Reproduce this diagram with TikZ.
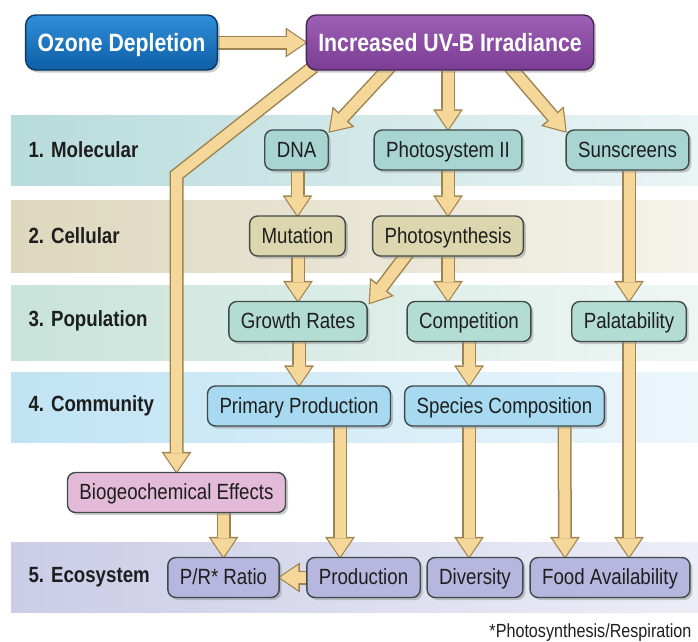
\documentclass[tikz,border=0pt]{standalone}
\usepackage{fontspec}
\setmainfont{Liberation Sans}[FakeStretch=0.85]
\usepackage{tikz}
\usetikzlibrary{arrows.meta}
\usetikzlibrary{shadows}

\definecolor{ozonetop}{HTML}{2F8FD8}
\definecolor{ozonebot}{HTML}{0E5FA6}
\definecolor{uvbtop}{HTML}{9D60B5}
\definecolor{uvbbot}{HTML}{7A3D93}
\definecolor{molfill}{HTML}{A8D4D2}
\definecolor{celfill}{HTML}{DCD6AF}
\definecolor{popfill}{HTML}{B3DCD2}
\definecolor{comfill}{HTML}{A7DAF0}
\definecolor{biofill}{HTML}{E3BAD7}
\definecolor{ecofill}{HTML}{B6B6DF}
\definecolor{molband}{HTML}{B8DBDC}
\definecolor{celband}{HTML}{DDD7BD}
\definecolor{popband}{HTML}{C8E3DA}
\definecolor{comband}{HTML}{C0E3F4}
\definecolor{ecoband}{HTML}{CBCCE7}
\definecolor{arrowfill}{HTML}{F5D899}
\definecolor{arrowedge}{HTML}{9E8350}
\definecolor{nodeedge}{HTML}{3F4B4B}
\definecolor{textdark}{HTML}{1E1E1E}

\pgfdeclarelayer{bands}
\pgfdeclarelayer{arrows}
\pgfsetlayers{bands,arrows,main}

\begin{document}
\begin{tikzpicture}[x=1pt,y=-1pt,
	level node/.style={rectangle, rounded corners=8pt, draw=nodeedge, line width=1.4pt,
		inner xsep=12pt, minimum height=40pt, text height=15.5pt, text depth=1pt,
		font=\fontsize{22}{24}\selectfont, text=textdark,
		drop shadow={shadow xshift=2.5pt, shadow yshift=-2.5pt, opacity=.4}},
	top node/.style={level node, minimum height=55pt, rounded corners=10pt, text=white,
		text height=18pt, font=\fontsize{25}{28}\selectfont\bfseries},
	band label/.style={anchor=west, font=\fontsize{22}{24}\selectfont\bfseries, text=textdark},
	flow/.style={draw=arrowfill, line width=11pt,
		-{Triangle[width=25pt,length=18.5pt,line width=0pt]},
		preaction={draw=arrowedge, line width=14pt,
			-{Triangle[width=30pt,length=22pt,line width=0pt]}, shorten >=-2pt}}]
	
	\useasboundingbox (0,0) rectangle (698,641);
	
	\node[top node, draw=ozonebot!60!black, top color=ozonetop, bottom color=ozonebot] (1) at (121.5,42.5) {Ozone Depletion};
	\node[top node, draw=uvbbot!60!black, top color=uvbtop, bottom color=uvbbot] (2) at (450,42.5) {Increased UV-B Irradiance};
	
	\node[level node, fill=molfill] (3) at (296.5,150) {DNA};
	\node[level node, fill=molfill] (4) at (448,150) {Photosystem II};
	\node[level node, fill=molfill] (5) at (627.5,150) {Sunscreens};
	
	\node[level node, fill=celfill] (6) at (297.5,236) {Mutation};
	\node[level node, fill=celfill] (7) at (448,236) {Photosynthesis};
	
	\node[level node, fill=popfill] (8) at (298,321.5) {Growth Rates};
	\node[level node, fill=popfill] (9) at (469,321.5) {Competition};
	\node[level node, fill=popfill] (10) at (629,321.5) {Palatability};
	
	\node[level node, fill=comfill] (11) at (299,406) {Primary Production};
	\node[level node, fill=comfill] (12) at (504.5,406) {Species Composition};
	
	\node[level node, fill=biofill] (13) at (176.5,492.5) {Biogeochemical Effects};
	
	\node[level node, fill=ecofill] (14) at (223.5,577.5) {P/R* Ratio};
	\node[level node, fill=ecofill] (15) at (363.5,577.5) {Production};
	\node[level node, fill=ecofill] (16) at (475,577.5) {Diversity};
	\node[level node, fill=ecofill] (17) at (610,577.5) {Food Availability};
	
	\node[band label] (l1) at (25,150) {1. Molecular};
	\node[band label] (l2) at (25,236) {2. Cellular};
	\node[band label] (l3) at (25,321) {3. Population};
	\node[band label] (l4) at (25,406) {4. Community};
	\node[band label] (l5) at (25,577) {5. Ecosystem};
	
	\node[anchor=east, font=\fontsize{19}{21}\selectfont, text=textdark] (fn) at (695,633) {*Photosynthesis/Respiration};
	
	\begin{pgfonlayer}{bands}
	\shade[left color=molband, right color=molband!30!white] (11,115) rectangle (698,185);
	\shade[left color=celband, right color=celband!30!white] (11,200) rectangle (698,272);
	\shade[left color=popband, right color=popband!30!white] (11,285) rectangle (698,360);
	\shade[left color=comband, right color=comband!30!white] (11,372) rectangle (698,442);
	\shade[left color=ecoband, right color=ecoband!35!white] (11,542) rectangle (698,612);
	\end{pgfonlayer}
	
	\coordinate (bend) at (13.north |- 0,175);
	
	\begin{pgfonlayer}{arrows}
	\draw[flow] (1.east) -- (2.west);
	\draw[flow] ([shift={(8,-4)}]2.south west) -- (bend) -- (13.north);
	\draw[flow] ([shift={(-60,-4)}]2.south) -- ([shift={(1,2)}]3.north east);
	\draw[flow] (4.north |- 2.south) -- (4.north);
	\draw[flow] ([shift={(60,-4)}]2.south) -- ([shift={(0,2)}]5.north west);
	
	\draw[flow] (6.north |- 3.south) -- (6.north);
	\draw[flow] (4.south) -- (7.north);
	\draw[flow] (10.north |- 5.south) -- (10.north);
	
	\draw[flow] (8.north |- 6.south) -- (8.north);
	\draw[flow] ([shift={(-40,-4)}]7.south) -- ([shift={(2,2)}]8.north east);
	\draw[flow] (7.south) -- (7.south |- 9.north);
	
	\draw[flow] (11.north |- 8.south) -- (11.north);
	\draw[flow] (9.south) -- (9.south |- 12.north);
	\draw[flow] (10.south) -- (10.south |- 17.north);
	
	\draw[flow] ([xshift=41pt]11.south) -- ([xshift=-23.5pt]15.north);
	\draw[flow] (9.south |- 12.south) -- (9.south |- 16.north);
	\draw[flow] ([xshift=60pt]12.south) -- ([xshift=-45pt]17.north);
	
	\draw[flow] (14.north |- 13.south) -- (14.north);
	\draw[flow] (15.west) -- (14.east);
	\end{pgfonlayer}
\end{tikzpicture}
\end{document}
